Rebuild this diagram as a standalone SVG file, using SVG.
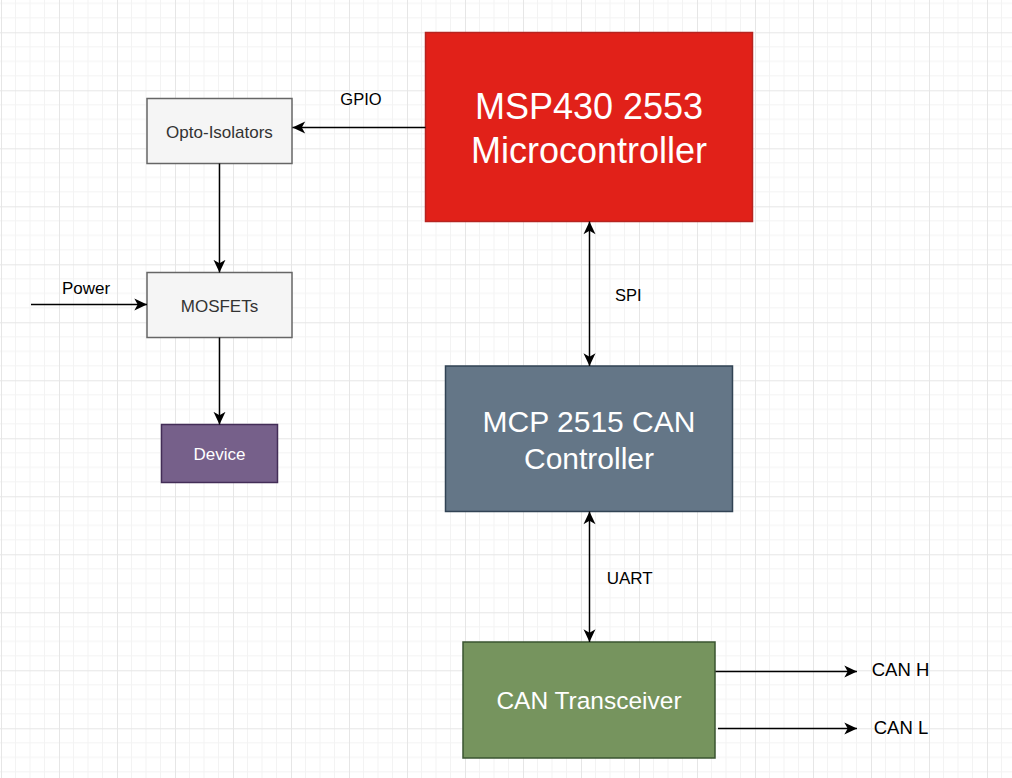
<svg xmlns="http://www.w3.org/2000/svg" width="1012" height="778" viewBox="0 0 1012 778">
<defs>
<pattern id="grid" patternUnits="userSpaceOnUse" x="1" y="32.3" width="58" height="58">
<path d="M14.5 0V58M29 0V58M43.5 0V58M0 14.5H58M0 29H58M0 43.5H58" stroke="#f3f3f3" stroke-width="1" fill="none"/>
<path d="M0.5 0V58M0 0.5H58" stroke="#e6e6e6" stroke-width="1" fill="none"/>
</pattern>
<marker id="arr" viewBox="-13 -7 14 14" refX="0" refY="0" markerWidth="14" markerHeight="14" markerUnits="userSpaceOnUse" orient="auto-start-reverse">
<path d="M0,0 L-12.7,-6 L-9.3,0 L-12.7,6 Z" fill="#000"/>
</marker>
<style>
.box{stroke-width:1.5}
.big{font-family:"Liberation Sans",Arial,sans-serif;fill:#fff;text-anchor:middle}
.sm{font-family:"Liberation Sans",Arial,sans-serif;font-size:17px;text-anchor:middle}
.lbl{font-family:"Liberation Sans",Arial,sans-serif;fill:#000}
.con{stroke:#000;stroke-width:1.5;fill:none}
</style>
</defs>
<rect width="1012" height="778" fill="#fff"/>
<rect width="1012" height="778" fill="url(#grid)"/>

<g id="msp430">
<rect class="box" x="425.5" y="32.5" width="327" height="189" fill="#e12119" stroke="#b62420"/>
<text class="big" x="589" y="119" font-size="36">MSP430 2553</text>
<text class="big" x="589" y="162.5" font-size="36">Microcontroller</text>
</g>
<g id="opto">
<rect class="box" x="147" y="98.5" width="145" height="65" fill="#f5f5f5" stroke="#666"/>
<text class="sm" x="219.5" y="137.5" fill="#333">Opto-Isolators</text>
</g>
<g id="mosfets">
<rect class="box" x="147" y="272.5" width="145" height="65" fill="#f5f5f5" stroke="#666"/>
<text class="sm" x="219.5" y="311.5" fill="#333">MOSFETs</text>
</g>
<g id="device">
<rect class="box" x="161.5" y="424.5" width="116" height="58" fill="#76608a" stroke="#432d57"/>
<text class="sm" x="219.5" y="459.5" fill="#fff">Device</text>
</g>
<g id="mcp2515">
<rect class="box" x="445.5" y="366" width="287" height="145.5" fill="#647687" stroke="#314354"/>
<text class="big" x="589" y="431.5" font-size="30">MCP 2515 CAN</text>
<text class="big" x="589" y="468.5" font-size="30">Controller</text>
</g>
<g id="transceiver">
<rect class="box" x="463" y="642" width="252" height="116" fill="#76945e" stroke="#3a5431"/>
<text class="big" x="589" y="708.5" font-size="24.5">CAN Transceiver</text>
</g>

<g id="connectors">
<line class="con" x1="425.5" y1="127.5" x2="292.5" y2="127.5" marker-end="url(#arr)"/>
<line class="con" x1="219.5" y1="163.5" x2="219.5" y2="272.5" marker-end="url(#arr)"/>
<line class="con" x1="31" y1="304.5" x2="147" y2="304.5" marker-end="url(#arr)"/>
<line class="con" x1="219.5" y1="337.5" x2="219.5" y2="424.5" marker-end="url(#arr)"/>
<line class="con" x1="589.5" y1="221.5" x2="589.5" y2="366" marker-start="url(#arr)" marker-end="url(#arr)"/>
<line class="con" x1="589.5" y1="511.5" x2="589.5" y2="642" marker-start="url(#arr)" marker-end="url(#arr)"/>
<line class="con" x1="715.5" y1="671.5" x2="857" y2="671.5" marker-end="url(#arr)"/>
<line class="con" x1="718" y1="728.5" x2="857" y2="728.5" marker-end="url(#arr)"/>
</g>

<g id="labels">
<text class="lbl" x="361" y="105" font-size="16.5" text-anchor="middle">GPIO</text>
<text class="lbl" x="86" y="294" font-size="17" text-anchor="middle">Power</text>
<text class="lbl" x="615" y="300.5" font-size="16.5">SPI</text>
<text class="lbl" x="606.7" y="584" font-size="17">UART</text>
<text class="lbl" x="871.7" y="676" font-size="18.5">CAN H</text>
<text class="lbl" x="873.7" y="733.5" font-size="18.5">CAN L</text>
</g>
</svg>
